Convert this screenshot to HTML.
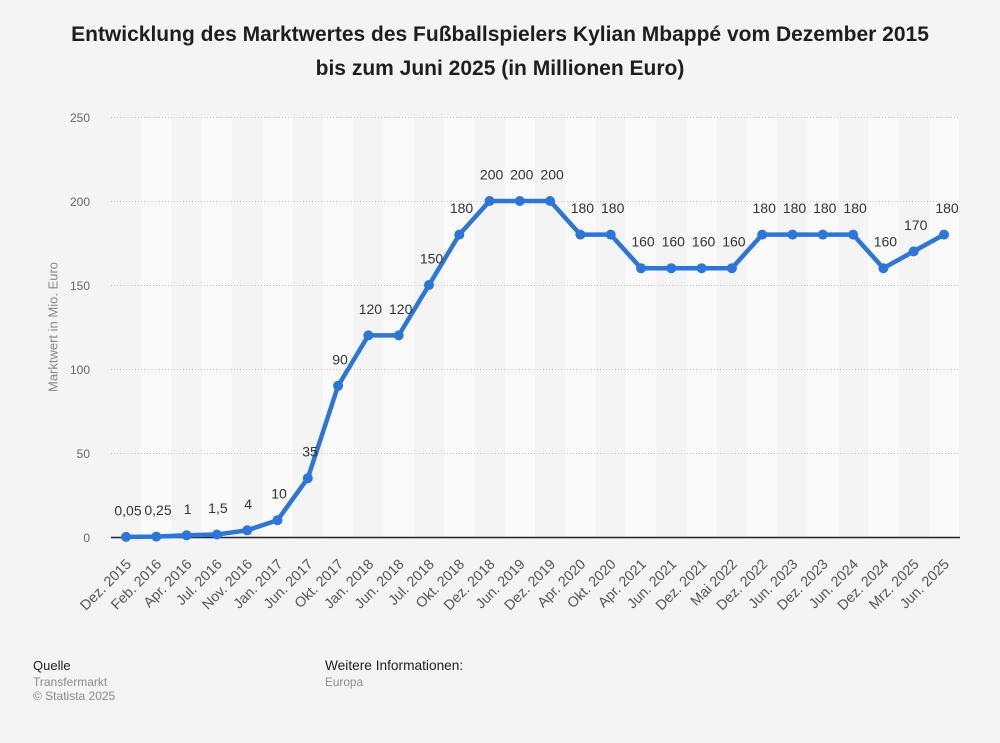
<!DOCTYPE html>
<html>
<head>
<meta charset="utf-8">
<style>
  html, body { margin: 0; padding: 0; background: #f4f4f4; }
  svg { display: block; font-family: "Liberation Sans", Arial, sans-serif; }
</style>
</head>
<body>
<svg width="1000" height="743" viewBox="0 0 1000 743" xmlns="http://www.w3.org/2000/svg">
  <rect x="0" y="0" width="1000" height="743" fill="#f4f4f4"/>

  <!-- Title -->
  <text x="500" y="41" text-anchor="middle" font-size="21" font-weight="bold" fill="#1e1e1e">Entwicklung des Marktwertes des Fußballspielers Kylian Mbappé vom Dezember 2015</text>
  <text x="500" y="75" text-anchor="middle" font-size="21" font-weight="bold" fill="#1e1e1e">bis zum Juni 2025 (in Millionen Euro)</text>

  <!-- Stripes (odd categories lighter) -->
  <g fill="#fafafa">
    <rect x="141.15" y="117" width="30.3" height="420"/>
    <rect x="201.74" y="117" width="30.3" height="420"/>
    <rect x="262.33" y="117" width="30.3" height="420"/>
    <rect x="322.92" y="117" width="30.3" height="420"/>
    <rect x="383.51" y="117" width="30.3" height="420"/>
    <rect x="444.10" y="117" width="30.3" height="420"/>
    <rect x="504.69" y="117" width="30.3" height="420"/>
    <rect x="565.28" y="117" width="30.3" height="420"/>
    <rect x="625.87" y="117" width="30.3" height="420"/>
    <rect x="686.46" y="117" width="30.3" height="420"/>
    <rect x="747.05" y="117" width="30.3" height="420"/>
    <rect x="807.64" y="117" width="30.3" height="420"/>
    <rect x="868.23" y="117" width="30.3" height="420"/>
    <rect x="928.82" y="117" width="30.3" height="420"/>
  </g>

  <!-- Gridlines -->
  <g stroke="#c4c4c4" stroke-width="1" stroke-dasharray="1,2">
    <line x1="111" y1="117.5" x2="960" y2="117.5"/>
    <line x1="111" y1="201.5" x2="960" y2="201.5"/>
    <line x1="111" y1="285.5" x2="960" y2="285.5"/>
    <line x1="111" y1="369.5" x2="960" y2="369.5"/>
    <line x1="111" y1="453.5" x2="960" y2="453.5"/>
  </g>
  <line x1="111" y1="537.5" x2="960" y2="537.5" stroke="#222" stroke-width="1.6"/>

  <!-- Y tick labels -->
  <g font-size="12" fill="#666" text-anchor="end">
    <text x="90" y="122">250</text>
    <text x="90" y="206">200</text>
    <text x="90" y="290">150</text>
    <text x="90" y="374">100</text>
    <text x="90" y="458">50</text>
    <text x="90" y="542">0</text>
  </g>

  <!-- Y axis title -->
  <text transform="translate(57.5,327) rotate(-90)" text-anchor="middle" font-size="13" fill="#888">Marktwert in Mio. Euro</text>

  <!-- Series line -->
  <polyline fill="none" stroke="#2a76dd" stroke-width="4.5" stroke-linejoin="round" stroke-linecap="round"
    points="126,536.9 156.3,536.6 186.6,535.3 216.9,534.5 247.2,530.3 277.5,520.2 307.8,478.2 338.1,385.8 368.4,335.4 398.7,335.4 429,285 459.3,234.6 489.6,201 519.8,201 550.1,201 580.4,234.6 610.7,234.6 641,268.2 671.3,268.2 701.6,268.2 731.9,268.2 762.2,234.6 792.5,234.6 822.8,234.6 853.1,234.6 883.4,268.2 913.7,251.4 944,234.6"/>

  <!-- Markers -->
  <g fill="#2a76dd">
    <circle cx="126" cy="536.9" r="5"/>
    <circle cx="156.3" cy="536.6" r="5"/>
    <circle cx="186.6" cy="535.3" r="5"/>
    <circle cx="216.9" cy="534.5" r="5"/>
    <circle cx="247.2" cy="530.3" r="5"/>
    <circle cx="277.5" cy="520.2" r="5"/>
    <circle cx="307.8" cy="478.2" r="5"/>
    <circle cx="338.1" cy="385.8" r="5"/>
    <circle cx="368.4" cy="335.4" r="5"/>
    <circle cx="398.7" cy="335.4" r="5"/>
    <circle cx="429" cy="285" r="5"/>
    <circle cx="459.3" cy="234.6" r="5"/>
    <circle cx="489.6" cy="201" r="5"/>
    <circle cx="519.8" cy="201" r="5"/>
    <circle cx="550.1" cy="201" r="5"/>
    <circle cx="580.4" cy="234.6" r="5"/>
    <circle cx="610.7" cy="234.6" r="5"/>
    <circle cx="641" cy="268.2" r="5"/>
    <circle cx="671.3" cy="268.2" r="5"/>
    <circle cx="701.6" cy="268.2" r="5"/>
    <circle cx="731.9" cy="268.2" r="5"/>
    <circle cx="762.2" cy="234.6" r="5"/>
    <circle cx="792.5" cy="234.6" r="5"/>
    <circle cx="822.8" cy="234.6" r="5"/>
    <circle cx="853.1" cy="234.6" r="5"/>
    <circle cx="883.4" cy="268.2" r="5"/>
    <circle cx="913.7" cy="251.4" r="5"/>
    <circle cx="944" cy="234.6" r="5"/>
  </g>

  <!-- Data labels -->
  <g font-size="14" fill="#333" text-anchor="middle">
    <text x="128" y="515.4">0,05</text>
    <text x="158" y="515.1">0,25</text>
    <text x="187.6" y="513.8">1</text>
    <text x="217.9" y="513">1,5</text>
    <text x="248.2" y="508.8">4</text>
    <text x="279" y="498.7">10</text>
    <text x="310" y="456.7">35</text>
    <text x="340" y="364.3">90</text>
    <text x="370.4" y="313.9">120</text>
    <text x="400.7" y="313.9">120</text>
    <text x="431.5" y="263.5">150</text>
    <text x="461.5" y="213.1">180</text>
    <text x="491.6" y="179.5">200</text>
    <text x="521.8" y="179.5">200</text>
    <text x="552.1" y="179.5">200</text>
    <text x="582.4" y="213.1">180</text>
    <text x="612.7" y="213.1">180</text>
    <text x="643" y="246.7">160</text>
    <text x="673.3" y="246.7">160</text>
    <text x="703.6" y="246.7">160</text>
    <text x="733.9" y="246.7">160</text>
    <text x="764.2" y="213.1">180</text>
    <text x="794.5" y="213.1">180</text>
    <text x="824.8" y="213.1">180</text>
    <text x="855.1" y="213.1">180</text>
    <text x="885.4" y="246.7">160</text>
    <text x="915.7" y="229.9">170</text>
    <text x="947" y="213.1">180</text>
  </g>

  <!-- X labels -->
  <g font-size="14.3" fill="#555" text-anchor="end">
    <text transform="translate(132,565) rotate(-45)">Dez. 2015</text>
    <text transform="translate(162.3,565) rotate(-45)">Feb. 2016</text>
    <text transform="translate(192.6,565) rotate(-45)">Apr. 2016</text>
    <text transform="translate(222.9,565) rotate(-45)">Jul. 2016</text>
    <text transform="translate(253.2,565) rotate(-45)">Nov. 2016</text>
    <text transform="translate(283.5,565) rotate(-45)">Jan. 2017</text>
    <text transform="translate(313.8,565) rotate(-45)">Jun. 2017</text>
    <text transform="translate(344.1,565) rotate(-45)">Okt. 2017</text>
    <text transform="translate(374.4,565) rotate(-45)">Jan. 2018</text>
    <text transform="translate(404.7,565) rotate(-45)">Jun. 2018</text>
    <text transform="translate(435,565) rotate(-45)">Jul. 2018</text>
    <text transform="translate(465.3,565) rotate(-45)">Okt. 2018</text>
    <text transform="translate(495.6,565) rotate(-45)">Dez. 2018</text>
    <text transform="translate(525.8,565) rotate(-45)">Jun. 2019</text>
    <text transform="translate(556.1,565) rotate(-45)">Dez. 2019</text>
    <text transform="translate(586.4,565) rotate(-45)">Apr. 2020</text>
    <text transform="translate(616.7,565) rotate(-45)">Okt. 2020</text>
    <text transform="translate(647,565) rotate(-45)">Apr. 2021</text>
    <text transform="translate(677.3,565) rotate(-45)">Jun. 2021</text>
    <text transform="translate(707.6,565) rotate(-45)">Dez. 2021</text>
    <text transform="translate(737.9,565) rotate(-45)">Mai 2022</text>
    <text transform="translate(768.2,565) rotate(-45)">Dez. 2022</text>
    <text transform="translate(798.5,565) rotate(-45)">Jun. 2023</text>
    <text transform="translate(828.8,565) rotate(-45)">Dez. 2023</text>
    <text transform="translate(859.1,565) rotate(-45)">Jun. 2024</text>
    <text transform="translate(889.4,565) rotate(-45)">Dez. 2024</text>
    <text transform="translate(919.7,565) rotate(-45)">Mrz. 2025</text>
    <text transform="translate(950,565) rotate(-45)">Jun. 2025</text>
  </g>

  <!-- Footer -->
  <text x="33" y="670" fill="#1e1e1e" font-size="13">Quelle</text>
  <text x="33" y="686" fill="#8a8a8a" font-size="12">Transfermarkt</text>
  <text x="33" y="700" fill="#8a8a8a" font-size="12">© Statista 2025</text>
  <text x="325" y="670" fill="#1e1e1e" font-size="13.7">Weitere Informationen:</text>
  <text x="325" y="686" fill="#8a8a8a" font-size="11.8">Europa</text>
</svg>
</body>
</html>
